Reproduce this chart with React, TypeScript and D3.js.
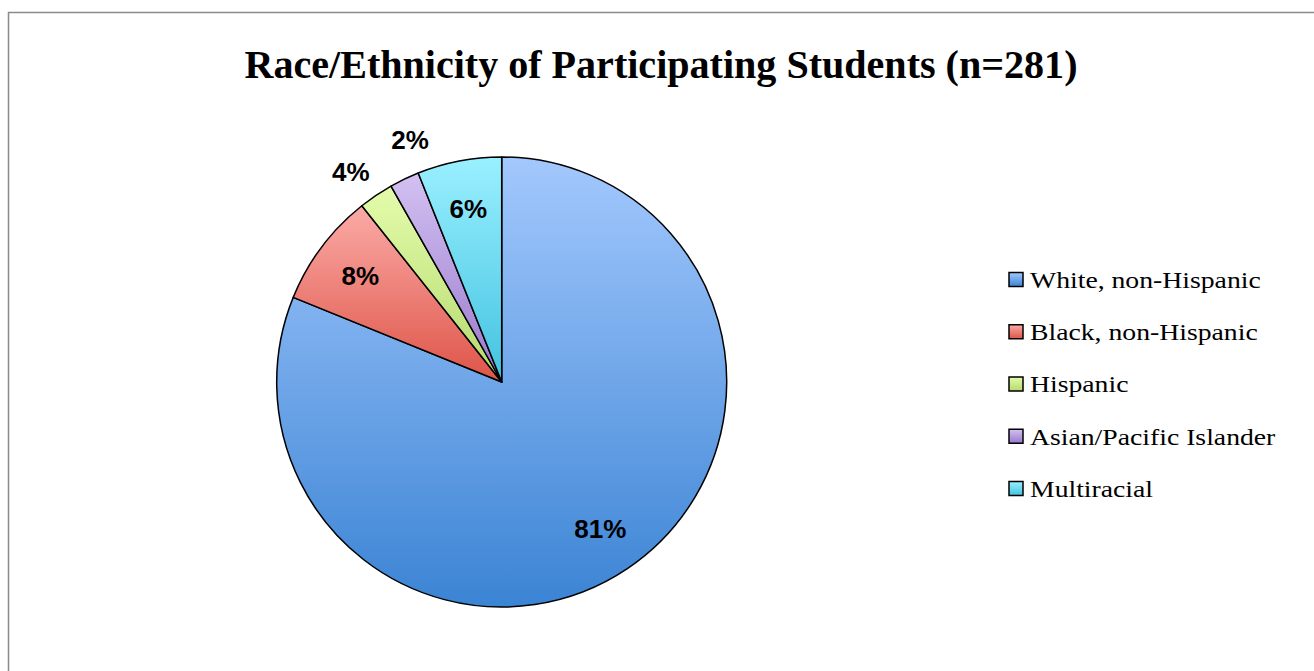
import React from "react";
import * as d3 from "d3";

const categories = [
  "White, non-Hispanic",
  "Black, non-Hispanic",
  "Hispanic",
  "Asian/Pacific Islander",
  "Multiracial",
];
const counts = [228, 23, 7, 6, 17];
const percentLabels = ["81%", "8%", "4%", "2%", "6%"];
const colorsTop = ["#A3C8FD", "#FBABA7", "#E4FCAB", "#D3C1F2", "#9AF0FF"];
const colorsBottom = ["#3B84D4", "#DE5448", "#B4D96E", "#9878CC", "#42C2E0"];
const title = "Race/Ethnicity of Participating Students (n=281)";

const W = 1314;
const H = 671;
const cx = 501.7;
const cy = 382;
const R = 225;

export default function App() {
  const pie = d3
    .pie<number>()
    .sort(null)
    .startAngle(0)
    .endAngle(2 * Math.PI)
    .value((d) => d);
  const arcs = pie(counts);
  const total = d3.sum(counts);
  const arc = d3.arc<d3.PieArcDatum<number>>().innerRadius(0).outerRadius(R);
  const legendY = d3
    .scalePoint<string>()
    .domain(categories)
    .range([280, 489]);

  // label placement: inside for big slices, outside (with simple collision push) for small ones
  const positions: [number, number][] = [];
  let prevOutside: [number, number] | null = null;
  arcs.forEach((a) => {
    const inside = a.data / total >= 0.05;
    let m = (a.startAngle + a.endAngle) / 2;
    const r = inside ? R * 0.785 : R * 1.15;
    let x = Math.sin(m) * r;
    let y = -Math.cos(m) * r;
    if (!inside) {
      m -= 0.03;
      x = Math.sin(m) * r;
      y = -Math.cos(m) * r;
      if (prevOutside) {
        while (Math.abs(x - prevOutside[0]) < 58 && m < 2 * Math.PI) {
          m += 0.005;
          x = Math.sin(m) * r;
          y = -Math.cos(m) * r;
        }
      }
      prevOutside = [x, y];
    }
    positions.push([x, y]);
  });

  return (
    <svg
      width={W}
      height={H}
      style={{ position: "absolute", left: 0, top: 0, background: "#fff" }}
    >
      <defs>
        {categories.map((c, i) => (
          <linearGradient key={c} id={`g${i}`} x1="0" y1="0" x2="0" y2="1">
            <stop offset="0%" stopColor={colorsTop[i]} />
            <stop offset="100%" stopColor={colorsBottom[i]} />
          </linearGradient>
        ))}
      </defs>
      <rect
        x={8.5}
        y={12.5}
        width={1400}
        height={800}
        fill="#fff"
        stroke="#8a8a8a"
        strokeWidth={1.5}
      />
      <text
        x={661}
        y={78}
        textAnchor="middle"
        fontFamily="'Liberation Serif', serif"
        fontWeight="bold"
        fontSize={40}
        textLength={833}
        lengthAdjust="spacingAndGlyphs"
      >
        {title}
      </text>
      <g transform={`translate(${cx},${cy})`}>
        {arcs.map((a, i) => (
          <path
            key={i}
            d={arc(a) || ""}
            fill={`url(#g${i})`}
            stroke="#000"
            strokeWidth={1.5}
            strokeLinejoin="round"
          />
        ))}
        {arcs.map((a, i) => (
          <text
            key={i}
            x={positions[i][0]}
            y={positions[i][1]}
            textAnchor="middle"
            dominantBaseline="central"
            fontFamily="'Liberation Sans', Arial, sans-serif"
            fontWeight="bold"
            fontSize={26}
            fill="#000"
          >
            {percentLabels[i]}
          </text>
        ))}
      </g>
      {categories.map((c, i) => {
        const y = legendY(c) as number;
        return (
          <g key={c}>
            <rect
              x={1009}
              y={y - 7.5}
              width={14}
              height={14}
              fill={`url(#g${i})`}
              stroke="#000"
              strokeWidth={1.5}
            />
            <text
              transform={`translate(1030,${y}) scale(1.155,1)`}
              dominantBaseline="central"
              fontFamily="'Liberation Serif', serif"
              fontSize={24}
              fill="#000"
            >
              {c}
            </text>
          </g>
        );
      })}
    </svg>
  );
}
